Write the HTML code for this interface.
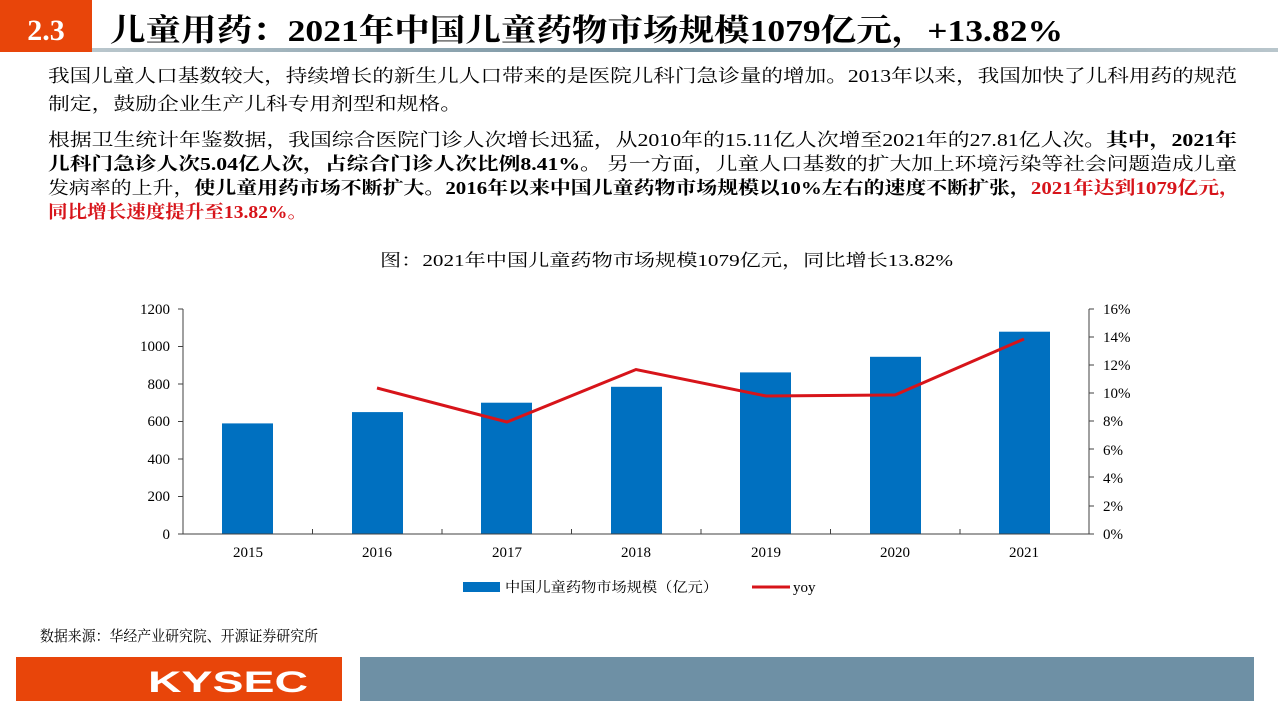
<!DOCTYPE html>
<html><head><meta charset="utf-8"><style>
html,body{margin:0;padding:0;background:#fff;width:1280px;height:719px;overflow:hidden}
svg{display:block}
.cj{font-family:"Liberation Serif","Noto Serif CJK SC",serif}
</style></head><body>
<svg width="1280" height="719" xmlns="http://www.w3.org/2000/svg">
<defs><linearGradient id="hl" x1="0" x2="1"><stop offset="0" stop-color="#b9c6cc"/><stop offset="0.5" stop-color="#6f8d9c"/><stop offset="1" stop-color="#b9c6cc"/></linearGradient></defs>
<rect x="0" y="0" width="92" height="52" fill="#e8450a"/>
<text x="46" y="40" text-anchor="middle" fill="#fff" font-family="Liberation Serif,serif" font-weight="bold" font-size="30">2.3</text>
<rect x="92" y="48" width="1186" height="4" fill="url(#hl)"/>
<text class="cj" x="110" y="41" font-weight="bold" font-size="31" textLength="953" lengthAdjust="spacingAndGlyphs" fill="#000">儿童用药：2021年中国儿童药物市场规模1079亿元，+13.82%</text>

<g class="cj" font-size="18" fill="#000">
<text x="48" y="82" textLength="1189" lengthAdjust="spacingAndGlyphs">我国儿童人口基数较大，持续增长的新生儿人口带来的是医院儿科门急诊量的增加。2013年以来，我国加快了儿科用药的规范</text>
<text x="48" y="110" textLength="414" lengthAdjust="spacingAndGlyphs">制定，鼓励企业生产儿科专用剂型和规格。</text>
<text x="48" y="146" textLength="1189" lengthAdjust="spacingAndGlyphs">根据卫生统计年鉴数据，我国综合医院门诊人次增长迅猛，从2010年的15.11亿人次增至2021年的27.81亿人次。<tspan font-weight="bold">其中，2021年</tspan></text>
<text x="48" y="170" textLength="1189" lengthAdjust="spacingAndGlyphs"><tspan font-weight="bold">儿科门急诊人次5.04亿人次，占综合门诊人次比例8.41%。</tspan> 另一方面，儿童人口基数的扩大加上环境污染等社会问题造成儿童</text>
<text x="48" y="194" textLength="1192" lengthAdjust="spacingAndGlyphs">发病率的上升，<tspan font-weight="bold">使儿童用药市场不断扩大。2016年以来中国儿童药物市场规模以10%左右的速度不断扩张，</tspan><tspan font-weight="bold" fill="#d7141a">2021年达到1079亿元，</tspan></text>
<text x="48" y="218" textLength="259" lengthAdjust="spacingAndGlyphs" font-weight="bold" fill="#d7141a">同比增长速度提升至13.82%。</text>
<text x="380" y="266" textLength="573" lengthAdjust="spacingAndGlyphs" font-size="17">图：2021年中国儿童药物市场规模1079亿元，同比增长13.82%</text>
</g>

<g font-family="Liberation Serif,serif" font-size="15" fill="#000">
<g text-anchor="end">
<text x="170" y="539">0</text><text x="170" y="501">200</text><text x="170" y="464">400</text><text x="170" y="426">600</text><text x="170" y="389">800</text><text x="170" y="351">1000</text><text x="170" y="314">1200</text>
</g>
<g>
<text x="1103" y="539">0%</text><text x="1103" y="511">2%</text><text x="1103" y="483">4%</text><text x="1103" y="455">6%</text><text x="1103" y="426">8%</text><text x="1103" y="398">10%</text><text x="1103" y="370">12%</text><text x="1103" y="342">14%</text><text x="1103" y="314">16%</text>
</g>
<g text-anchor="middle">
<text x="248" y="557">2015</text><text x="377" y="557">2016</text><text x="507" y="557">2017</text><text x="636" y="557">2018</text><text x="766" y="557">2019</text><text x="895" y="557">2020</text><text x="1024" y="557">2021</text>
</g>
</g>
<g fill="#0070c0">
<rect x="222" y="423.4" width="51" height="110.6"/>
<rect x="352" y="412.1" width="51" height="121.9"/>
<rect x="481" y="402.7" width="51" height="131.3"/>
<rect x="611" y="386.8" width="51" height="147.2"/>
<rect x="740" y="372.4" width="51" height="161.6"/>
<rect x="870" y="356.8" width="51" height="177.2"/>
<rect x="999" y="331.7" width="51" height="202.3"/>
</g>
<g stroke="#404040" stroke-width="1" fill="none">
<path d="M183 309V534H1089V309"/>
<path d="M178 309h5M178 346.5h5M178 384h5M178 421.5h5M178 459h5M178 496.5h5M178 534h5"/>
<path d="M1089 309h5M1089 337h5M1089 365h5M1089 393h5M1089 421h5M1089 449h5M1089 477h5M1089 506h5M1089 534h5"/>
<path d="M312.5 534v-5M442 534v-5M571.5 534v-5M701 534v-5M830.5 534v-5M960 534v-5"/>
</g>
<polyline points="377,388 507,422 636,369.5 766,396 895,395 1024,339" fill="none" stroke="#d7141a" stroke-width="3"/>
<rect x="463" y="582" width="37" height="10" fill="#0070c0"/>
<text class="cj" x="505" y="592" font-size="14" textLength="213" lengthAdjust="spacingAndGlyphs">中国儿童药物市场规模（亿元）</text>
<line x1="752" y1="587" x2="790" y2="587" stroke="#d7141a" stroke-width="3"/>
<text x="793" y="592" font-family="Liberation Serif,serif" font-size="15">yoy</text>
<text class="cj" x="40" y="641" font-size="15" textLength="278" lengthAdjust="spacingAndGlyphs">数据来源：华经产业研究院、开源证券研究所</text>
<rect x="16" y="657" width="326" height="44" fill="#e8450a"/>
<text x="228" y="692" text-anchor="middle" fill="#fff" font-family="Liberation Sans,sans-serif" font-weight="bold" font-size="30" textLength="160" lengthAdjust="spacingAndGlyphs">KYSEC</text>
<rect x="360" y="657" width="894" height="44" fill="#6e90a5"/>
</svg>
</body></html>
